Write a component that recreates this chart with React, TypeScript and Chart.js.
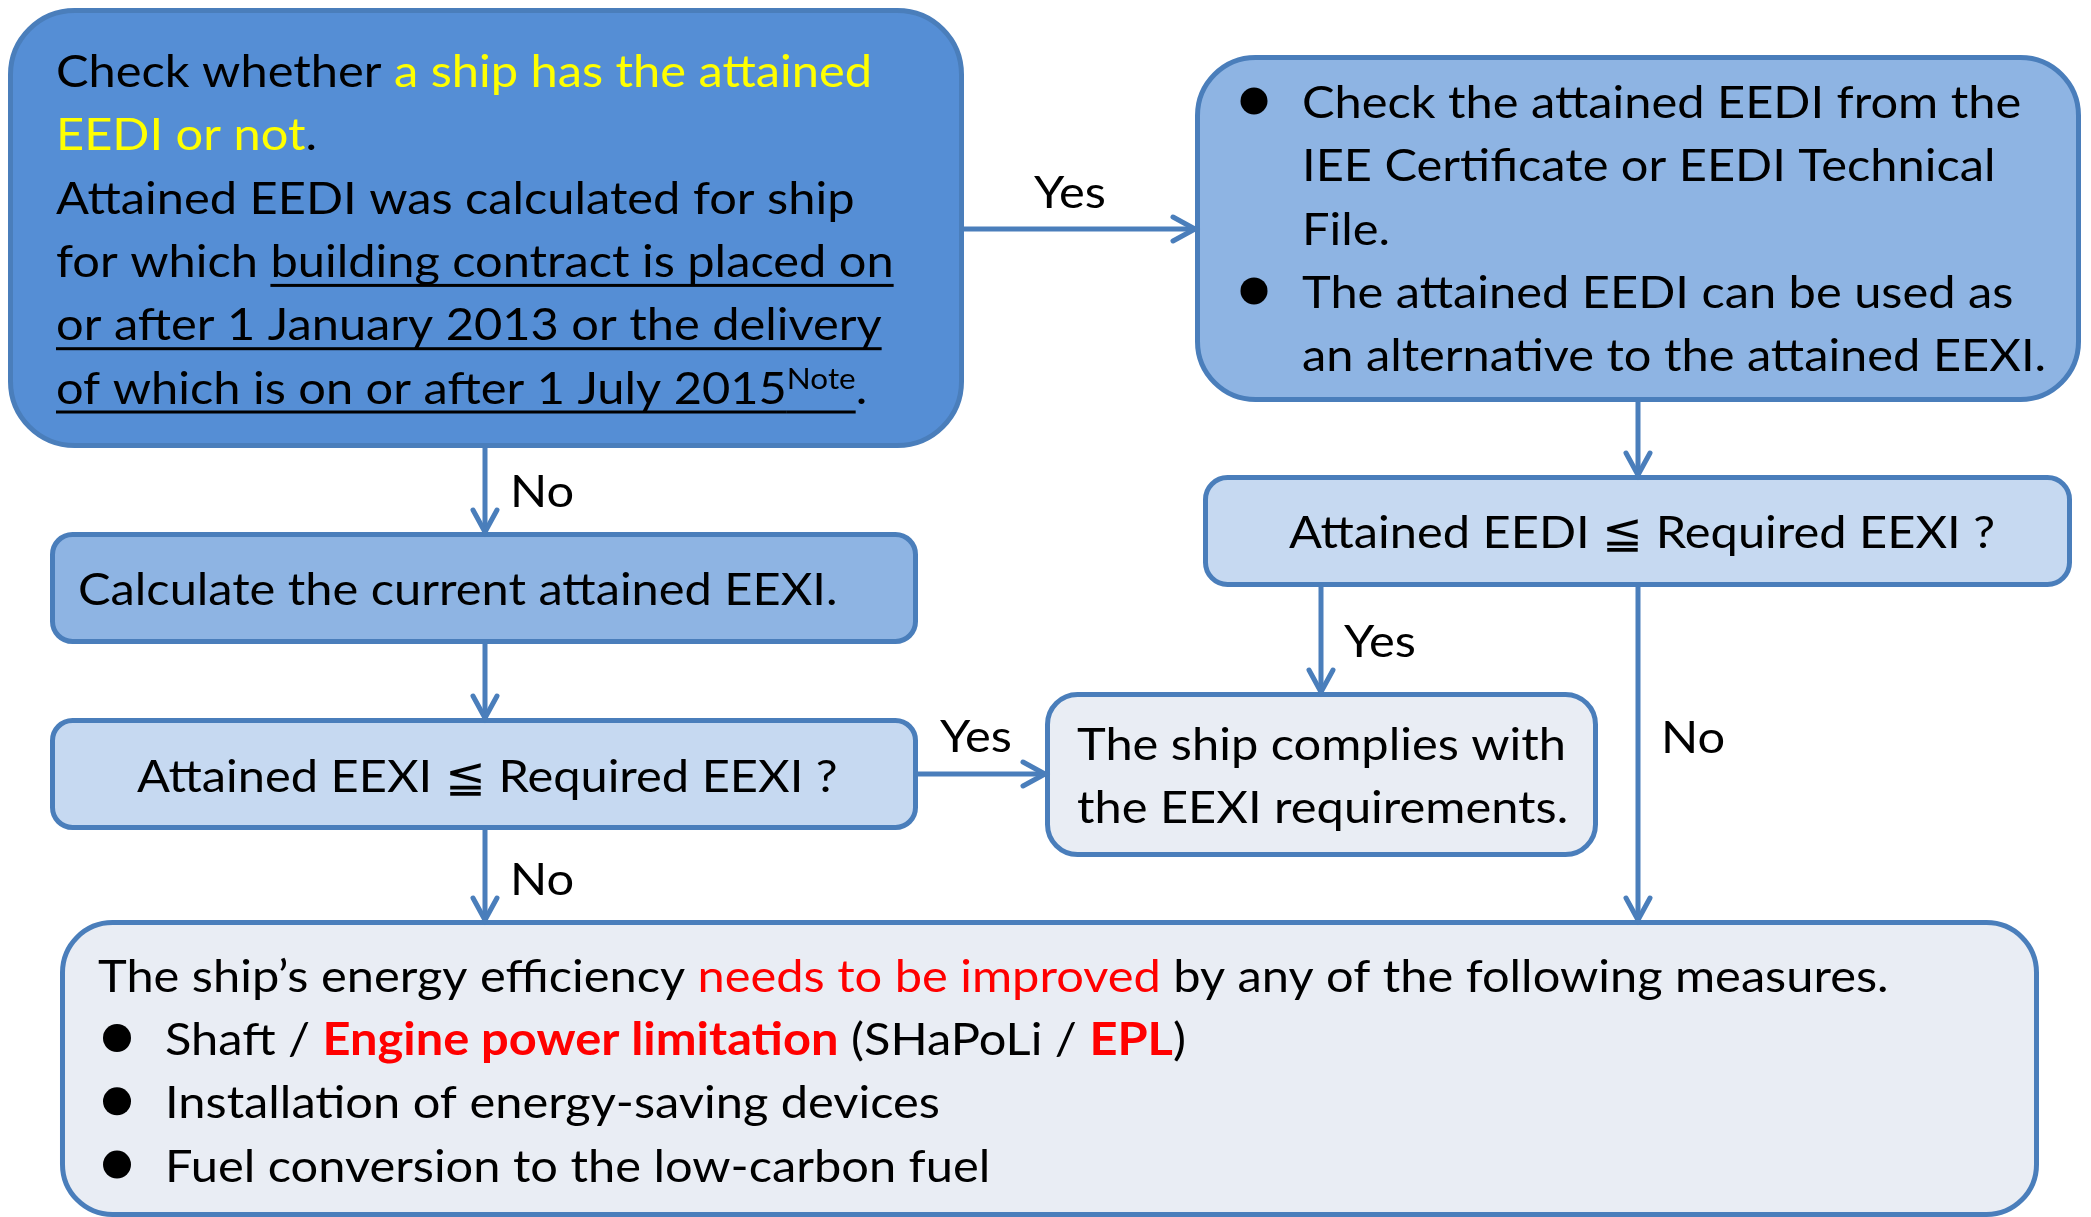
import React, { useEffect, useRef } from "react";
import { Chart, registerables } from "chart.js";

Chart.register(...registerables);

const W = 2091;
const H = 1217;
const FONT = "Lato, 'Noto Sans', sans-serif";
const FS = 45;
const LH = 63.3;
const BORDER = "#4A7EBB";
const YELLOW = "#FFFF00";
const RED = "#FF0000";

type Span = { t: string; c?: string; b?: boolean; u?: boolean; sup?: boolean };

// ---- Texts (data) ----
const checkLines: Span[][] = [
  [{ t: "Check whether " }, { t: "a ship has the attained", c: YELLOW }],
  [{ t: "EEDI or not", c: YELLOW }, { t: "." }],
  [{ t: "Attained EEDI was calculated for ship" }],
  [{ t: "for which " }, { t: "building contract is placed on", u: true }],
  [{ t: "or after 1 January 2013 or the delivery", u: true }],
  [{ t: "of which is on or after 1 July 2015", u: true }, { t: "Note", u: true, sup: true }, { t: "." }],
];
const eediBullets: Span[][][] = [
  [[{ t: "Check the attained EEDI from the" }], [{ t: "IEE Certificate or EEDI Technical" }], [{ t: "File." }]],
  [[{ t: "The attained EEDI can be used as" }], [{ t: "an alternative to the attained EEXI." }]],
];
const calcLines: Span[][] = [[{ t: "Calculate the current attained EEXI." }]];
const eexiQLines: Span[][] = [[{ t: "Attained EEXI \u2266 Required EEXI ?" }]];
const eediQLines: Span[][] = [[{ t: "Attained EEDI \u2266 Required EEXI ?" }]];
const complyLines: Span[][] = [[{ t: "The ship complies with" }], [{ t: "the EEXI requirements." }]];
const improveHead: Span[] = [
  { t: "The ship\u2019s energy efficiency " },
  { t: "needs to be improved", c: RED },
  { t: " by any of the following measures." },
];
const improveBullets: Span[][] = [
  [{ t: "Shaft / " }, { t: "Engine power limitation", c: RED, b: true }, { t: " (SHaPoLi / " }, { t: "EPL", c: RED, b: true }, { t: ")" }],
  [{ t: "Installation of energy-saving devices" }],
  [{ t: "Fuel conversion to the low-carbon fuel" }],
];
const edgeLabels = ["No", "Yes", "No", "Yes", "Yes", "No"];

// ---- Layout ----
// boxes: [x0, y0, x1, y1, radius, fill]
const boxLayout: [number, number, number, number, number, string][] = [
  [8, 8, 964, 448, 64, "#558ED5"], // check
  [1195, 55, 2081, 402, 58, "#8EB4E3"], // eedi
  [50, 532, 918, 644, 20, "#8EB4E3"], // calc
  [50, 718, 918, 830, 20, "#C6D9F1"], // eexiQ
  [1203, 475, 2072, 587, 22, "#C6D9F1"], // eediQ
  [1045, 692, 1598, 857, 30, "#E9EDF4"], // comply
  [60, 920, 2039, 1217, 50, "#E9EDF4"], // improve
];
// arrows: [x0, y0, x1, y1]
const arrowLayout: [number, number, number, number][] = [
  [485, 448, 485, 532],
  [485, 644, 485, 718],
  [485, 830, 485, 920],
  [964, 229, 1195, 229],
  [1638, 402, 1638, 475],
  [1321, 587, 1321, 692],
  [1638, 587, 1638, 920],
  [918, 774, 1045, 774],
];
// label positions [x, baseline]
const labelLayout: [number, number][] = [
  [510, 507],
  [1034, 208],
  [510, 895],
  [940, 752],
  [1344, 657],
  [1661, 753],
];

let K = 1;

function fontFor(s: Span) {
  const size = s.sup ? 29 : FS;
  return `${s.b ? "bold " : ""}${size}px ${FONT}`;
}

function drawSpans(ctx: CanvasRenderingContext2D, spans: Span[], x: number, y: number) {
  ctx.save();
  ctx.translate(x, y);
  ctx.scale(K, 1);
  ctx.textBaseline = "alphabetic";
  ctx.textAlign = "left";
  let cx = 0;
  for (const s of spans) {
    ctx.font = fontFor(s);
    ctx.fillStyle = s.c || "#000000";
    const dy = s.sup ? -15 : 0;
    ctx.fillText(s.t, cx, dy);
    const w = ctx.measureText(s.t).width;
    if (s.u) {
      ctx.fillStyle = "#000000";
      ctx.fillRect(cx, 7, w, 3);
    }
    cx += w;
  }
  ctx.restore();
}

function roundRect(ctx: CanvasRenderingContext2D, x0: number, y0: number, x1: number, y1: number, r: number) {
  ctx.beginPath();
  ctx.moveTo(x0 + r, y0);
  ctx.lineTo(x1 - r, y0);
  ctx.arcTo(x1, y0, x1, y0 + r, r);
  ctx.lineTo(x1, y1 - r);
  ctx.arcTo(x1, y1, x1 - r, y1, r);
  ctx.lineTo(x0 + r, y1);
  ctx.arcTo(x0, y1, x0, y1 - r, r);
  ctx.lineTo(x0, y0 + r);
  ctx.arcTo(x0, y0, x0 + r, y0, r);
  ctx.closePath();
}

const flowPlugin = {
  id: "flow",
  beforeDatasetsDraw(chart: any) {
    const ctx: CanvasRenderingContext2D = chart.ctx;
    const xs = chart.scales.x;
    const ys = chart.scales.y;
    ctx.save();
    ctx.fillStyle = "#ffffff";
    ctx.fillRect(0, 0, chart.width, chart.height);
    for (const b of boxLayout) {
      const x0 = xs.getPixelForValue(b[0]) + 2.5;
      const y0 = ys.getPixelForValue(b[1]) + 2.5;
      const x1 = xs.getPixelForValue(b[2]) - 2.5;
      const y1 = ys.getPixelForValue(b[3]) - 2.5;
      roundRect(ctx, x0, y0, x1, y1, b[4]);
      ctx.fillStyle = b[5];
      ctx.fill();
      ctx.lineWidth = 5;
      ctx.strokeStyle = BORDER;
      ctx.stroke();
    }
    ctx.restore();
  },
  afterDatasetsDraw(chart: any) {
    const ctx: CanvasRenderingContext2D = chart.ctx;
    const xs = chart.scales.x;
    const ys = chart.scales.y;
    const px = (v: number) => xs.getPixelForValue(v);
    const py = (v: number) => ys.getPixelForValue(v);
    ctx.save();
    // arrowheads
    chart.data.datasets.forEach((ds: any, i: number) => {
      const meta = chart.getDatasetMeta(i);
      const pts = meta.data;
      if (!pts || pts.length < 2) return;
      const a = pts[pts.length - 2];
      const e = pts[pts.length - 1];
      const dx = e.x - a.x;
      const dy = e.y - a.y;
      const L = Math.hypot(dx, dy) || 1;
      const ux = dx / L;
      const uy = dy / L;
      const back = 22;
      const side = 12;
      ctx.beginPath();
      ctx.moveTo(e.x - ux * back - uy * side, e.y - uy * back + ux * side);
      ctx.lineTo(e.x, e.y);
      ctx.lineTo(e.x - ux * back + uy * side, e.y - uy * back - ux * side);
      ctx.strokeStyle = ds.borderColor;
      ctx.lineWidth = 5;
      ctx.lineCap = "round";
      ctx.lineJoin = "miter";
      ctx.stroke();
    });

    // calibrate horizontal text compression
    ctx.font = `${FS}px ${FONT}`;
    K = 816 / ctx.measureText("Check whether a ship has the attained").width;

    // check box
    checkLines.forEach((ln, i) => drawSpans(ctx, ln, px(56), py(87 + i * LH)));
    // eedi bullets
    let row = 0;
    eediBullets.forEach((bl) => {
      bl.forEach((ln, j) => {
        const by = py(118 + row * LH);
        if (j === 0) {
          ctx.beginPath();
          ctx.arc(px(1254), by - 17, 13.5, 0, Math.PI * 2);
          ctx.fillStyle = "#000";
          ctx.fill();
        }
        drawSpans(ctx, ln, px(1302), by);
        row++;
      });
    });
    calcLines.forEach((ln, i) => drawSpans(ctx, ln, px(78), py(605 + i * LH)));
    eexiQLines.forEach((ln, i) => drawSpans(ctx, ln, px(137), py(792 + i * LH)));
    eediQLines.forEach((ln, i) => drawSpans(ctx, ln, px(1289), py(548 + i * LH)));
    complyLines.forEach((ln, i) => drawSpans(ctx, ln, px(1077), py(760 + i * LH)));
    drawSpans(ctx, improveHead, px(98), py(992));
    improveBullets.forEach((ln, i) => {
      const by = py(1055 + i * LH);
      ctx.beginPath();
      ctx.arc(px(117), by - 17, 14, 0, Math.PI * 2);
      ctx.fillStyle = "#000";
      ctx.fill();
      drawSpans(ctx, ln, px(165), by);
    });
    // edge labels
    edgeLabels.forEach((t, i) => {
      const p = labelLayout[i];
      drawSpans(ctx, [{ t }], px(p[0]), py(p[1]));
    });
    ctx.restore();
  },
};

export default function App() {
  const ref = useRef<HTMLCanvasElement | null>(null);
  useEffect(() => {
    document.body.style.margin = "0";
    const canvas = ref.current;
    if (!canvas) return;
    const chart = new Chart(canvas, {
      type: "scatter",
      data: {
        datasets: arrowLayout.map((a) => ({
          data: [
            { x: a[0], y: a[1] },
            { x: a[2], y: a[3] },
          ],
          showLine: true,
          borderColor: BORDER,
          borderWidth: 5,
          pointRadius: 0,
          fill: false,
          clip: false as any,
        })),
      },
      options: {
        animation: false,
        responsive: false,
        devicePixelRatio: 1,
        events: [],
        layout: { padding: 0 },
        plugins: { legend: { display: false }, tooltip: { enabled: false } },
        scales: {
          x: { type: "linear", min: 0, max: W, display: false },
          y: { type: "linear", min: 0, max: H, reverse: true, display: false },
        },
      },
      plugins: [flowPlugin as any],
    });
    return () => chart.destroy();
  }, []);
  return <canvas ref={ref} width={W} height={H} style={{ display: "block", width: W, height: H }} />;
}
